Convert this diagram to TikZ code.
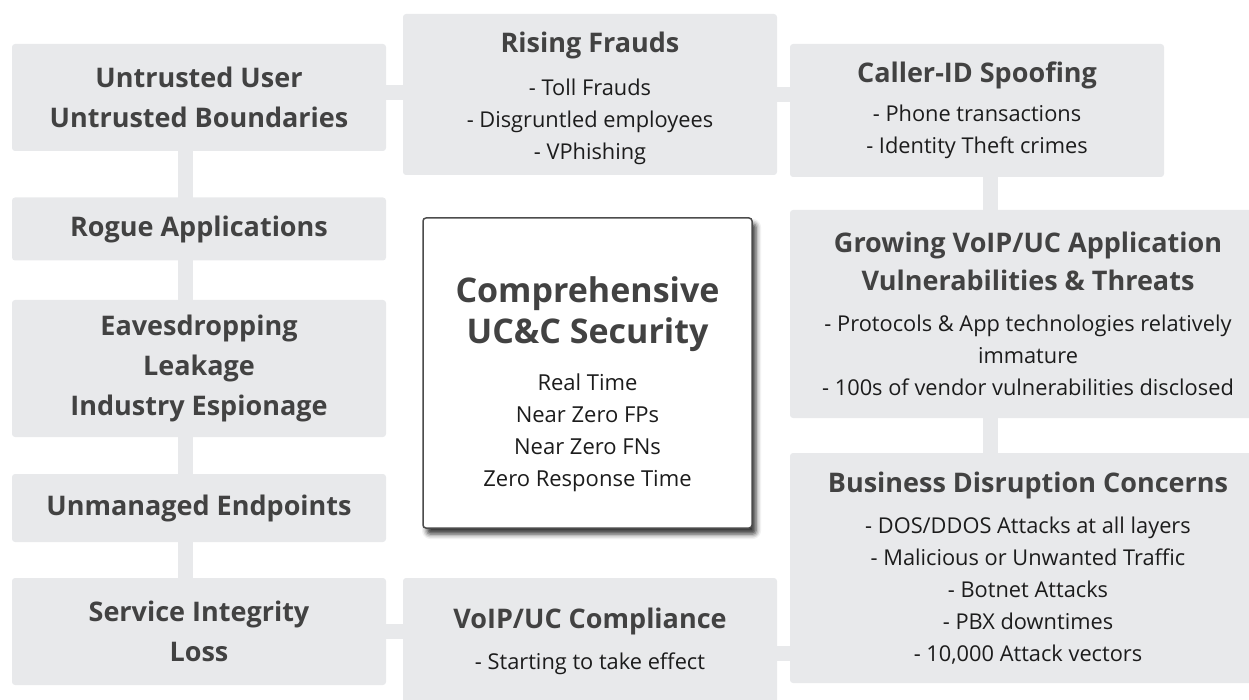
\documentclass[tikz,border=0pt]{standalone}
\usepackage{fontspec}
\setmainfont{Open Sans}
\usepackage{xcolor}
\usetikzlibrary{positioning,backgrounds,shadows.blur}

\definecolor{boxgray}{RGB}{232,233,235}
\definecolor{headgray}{RGB}{66,66,66}
\definecolor{bodygray}{RGB}{28,28,28}
\newcommand{\hd}{\fontsize{27}{40}\selectfont\bfseries}
\newcommand{\bd}{\fontsize{21.8}{32}\selectfont}
\newcommand{\ttl}{\fontsize{34}{41}\selectfont\bfseries}

\begin{document}
\begin{tikzpicture}[
    x=1pt, y=-1pt,
    threat/.style={rectangle, fill=boxgray, rounded corners=3pt, minimum width=374pt, inner sep=0pt, align=center, text=headgray, font=\hd},
    listbox/.style={threat, font=\bd},
    core/.style={rectangle, fill=white, draw=black!70, line width=1.5pt, rounded corners=3pt, minimum width=329pt, minimum height=310pt, inner sep=0pt, align=center, text=bodygray, font=\fontsize{22}{32}\selectfont,
        blur shadow={shadow xshift=4pt, shadow yshift=-6pt, shadow blur radius=5pt, shadow opacity=80}},
    link/.style={draw=boxgray, line width=15pt}
]
\useasboundingbox (0,0) rectangle (1249,700);

% Columns
\def\xL{199}
\def\xM{590}
\def\xR{977}
\def\xW{1028}

% Left column
\node[threat, minimum height=107pt] (untrusted) at (\xL,97.5) {Untrusted User\\Untrusted Boundaries};
\node[threat, minimum height=63pt]  (rogue)     at (\xL,229)  {Rogue Applications};
\node[threat, minimum height=137pt] (eaves)     at (\xL,368.5) {Eavesdropping\\Leakage\\Industry Espionage};
\node[threat, minimum height=68pt]  (unmanaged) at (\xL,508)  {Unmanaged Endpoints};
\node[threat, minimum height=107pt] (service)   at (\xL,631.5) {Service Integrity\\Loss};

% Middle column
\node[listbox, minimum height=161pt] (rising) at (\xM,94.5)
  {{\hd\rule{0pt}{29pt}Rising Frauds}\\[11pt]{\color{bodygray}- Toll Frauds}\\{\color{bodygray}- Disgruntled employees}\\{\color{bodygray}- VPhishing}};
\node[listbox, minimum height=127pt] (compliance) at (\xM,641.5)
  {{\hd VoIP/UC Compliance}\\[9pt]{\color{bodygray}- Starting to take effect}};

% Right column
\node[listbox, minimum height=133pt] (caller) at (\xR,110.5)
  {{\hd Caller-ID Spoofing}\\[7pt]{\color{bodygray}- Phone transactions}\\{\color{bodygray}- Identity Theft crimes}};
\node[listbox, minimum width=476pt, minimum height=208pt] (growing) at (\xW,314)
  {{\hd Growing VoIP/UC Application}\\[6pt]{\hd Vulnerabilities \& Threats}\\[9pt]{\color{bodygray}- Protocols \& App technologies relatively}\\{\color{bodygray}immature}\\{\color{bodygray}- 100s of vendor vulnerabilities disclosed}};
\node[listbox, minimum width=476pt, minimum height=230pt] (business) at (\xW,568)
  {{\hd Business Disruption Concerns}\\[9pt]{\color{bodygray}- DOS/DDOS Attacks at all layers}\\{\color{bodygray}- Malicious or Unwanted Traffic}\\{\color{bodygray}- Botnet Attacks}\\{\color{bodygray}- PBX downtimes}\\{\color{bodygray}- 10,000 Attack vectors}};

% Centre
\node[core] (security) at (587.5,373)
  {{\ttl\color{headgray}\rule{0pt}{49pt}Comprehensive}\\[6pt]{\ttl\color{headgray}UC\&C Security}\\[15pt]Real Time\\Near Zero FPs\\Near Zero FNs\\Zero Response Time};

% Connectors
\begin{scope}[on background layer]
\draw[link] ([xshift=-14pt]untrusted.south) -- ([xshift=-14pt]service.north);
\draw[link] ([yshift=5pt]untrusted.east) -- ([yshift=5pt]untrusted.east -| rising.west);
\draw[link] (rising.east) -- (rising.east -| caller.west);
\draw[link] ([xshift=13pt]caller.south) -- ([xshift=13pt]caller.south |- business.north);
\draw[link] (service.east) -- (service.east -| compliance.west);
\draw[link] ([yshift=-12pt]compliance.east) -- ([yshift=-12pt]compliance.east -| business.west);
\end{scope}
\end{tikzpicture}
\end{document}
